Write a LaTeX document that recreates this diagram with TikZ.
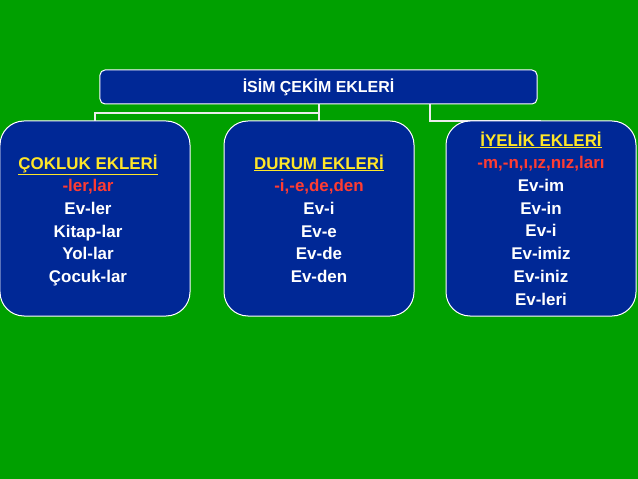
\documentclass[tikz,border=0pt]{standalone}
\usepackage{fontspec}
\setmainfont{Liberation Sans}
\usetikzlibrary{positioning}
\definecolor{bggreen}{RGB}{0,160,0}
\definecolor{boxblue}{RGB}{0,40,150}
\definecolor{headyellow}{RGB}{255,230,40}
\definecolor{suffred}{RGB}{255,60,50}
\tikzset{box/.style={draw=white, line width=1bp, fill=boxblue, rounded corners=24bp, minimum width=190bp, minimum height=195bp, inner sep=0pt}}
\tikzset{cell/.style={align=center, text=white, font=\bfseries\fontsize{17}{22.8}\selectfont}}
\tikzset{link/.style={draw=white!85!gray, line width=2bp}}
\newcommand{\head}[1]{\textcolor{headyellow}{\underline{#1}}}
\newcommand{\suff}[1]{\textcolor{suffred}{#1}}
\begin{document}
\begin{tikzpicture}[x=1bp,y=-1bp]
        \fill[bggreen] (0,0) rectangle (638,479);
        \useasboundingbox (0,0) rectangle (638,479);

        \draw[link] (319,104) -- (319,121);
        \draw[link] (319,113) -- (95,113) -- (95,121);
        \draw[link] (430,104) -- (430,121) -- (541,121);

        \node[draw=white, line width=1bp, fill=boxblue, rounded corners=5bp, minimum width=437bp, minimum height=34bp, text=white, font=\bfseries\fontsize{16}{18}\selectfont] (top) at (318.5,87) {İSİM ÇEKİM EKLERİ};

        \node[box] (left) at (95,218.5) {};
        \node[box] (mid) at (319,218.5) {};
        \node[box] (right) at (541,218.5) {};

        \node[cell, anchor=north] (ltxt) at (88,151) {\head{ÇOKLUK EKLERİ}\\\suff{-ler,lar}\\Ev-ler\\Kitap-lar\\Yol-lar\\Çocuk-lar};
        \node[cell, anchor=north] (mtxt) at (319,151) {\head{DURUM EKLERİ}\\\suff{-i,-e,de,den}\\Ev-i\\Ev-e\\Ev-de\\Ev-den};
        \node[cell, anchor=north] (rtxt) at (541,128) {\head{İYELİK EKLERİ}\\\suff{-m,-n,ı,ız,nız,ları}\\Ev-im\\Ev-in\\Ev-i\\Ev-imiz\\Ev-iniz\\Ev-leri};
\end{tikzpicture}
\end{document}
